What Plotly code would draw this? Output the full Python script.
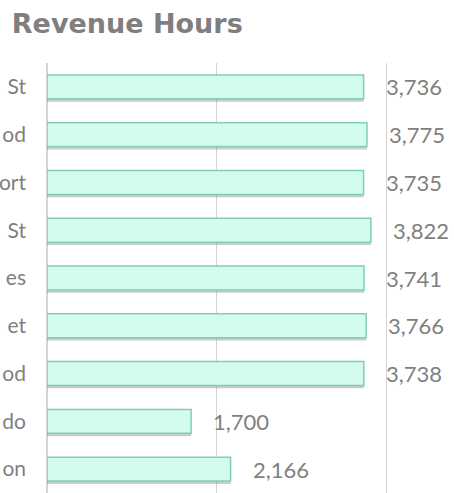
import plotly.graph_objects as go

# visible (cropped) category labels, top to bottom
routes = ["St", "od", "ort", "St", "es", "et", "od", "do", "on"]
revenue_hours = [3736, 3775, 3735, 3822, 3741, 3766, 3738, 1700, 2166]
positions = list(range(len(routes)))

GREY = "#7f7f7f"
FONT = "Lato"

fig = go.Figure()

# soft drop shadow under each bar
fig.add_trace(
    go.Bar(
        x=revenue_hours,
        y=positions,
        orientation="h",
        width=0.5,
        offset=-0.19,
        marker=dict(color="rgba(110,110,110,0.35)", line=dict(width=0)),
        hoverinfo="skip",
        showlegend=False,
    )
)

fig.add_trace(
    go.Bar(
        x=revenue_hours,
        y=positions,
        orientation="h",
        width=0.5,
        marker=dict(color="#d3fcec", line=dict(color="#7fd0b2", width=1.5)),
        showlegend=False,
    )
)

for pos, val in zip(positions, revenue_hours):
    fig.add_annotation(
        x=val,
        y=pos,
        text=f"{val:,}",
        showarrow=False,
        xanchor="left",
        xshift=20,
        font=dict(family=FONT, size=22, color=GREY),
    )

fig.update_layout(
    width=454,
    height=493,
    margin=dict(l=47, r=0, t=63, b=0),
    paper_bgcolor="white",
    plot_bgcolor="white",
    barmode="overlay",
    title=dict(
        text="<b>Revenue Hours</b>",
        x=0.026,
        xanchor="left",
        y=0.953,
        yanchor="middle",
        font=dict(family="DejaVu Sans", size=27, color=GREY),
    ),
    xaxis=dict(
        range=[0, 4802],
        dtick=2000,
        showgrid=True,
        gridcolor="#d4d4d4",
        gridwidth=1,
        zeroline=True,
        zerolinecolor="#d4d4d4",
        showticklabels=False,
        automargin=False,
    ),
    yaxis=dict(
        range=[8.5, -0.5],
        tickvals=positions,
        ticktext=routes,
        showgrid=False,
        zeroline=False,
        ticks="",
        ticklabelstandoff=20,
        automargin=False,
        tickfont=dict(family=FONT, size=21, color=GREY),
    ),
)

# drop the browser's default page margin so the figure sits at the corner
fig.write_html(
    "out.html",
    config={"displayModeBar": False},
    post_script="document.body.style.margin='0';document.body.style.overflow='hidden';",
)
